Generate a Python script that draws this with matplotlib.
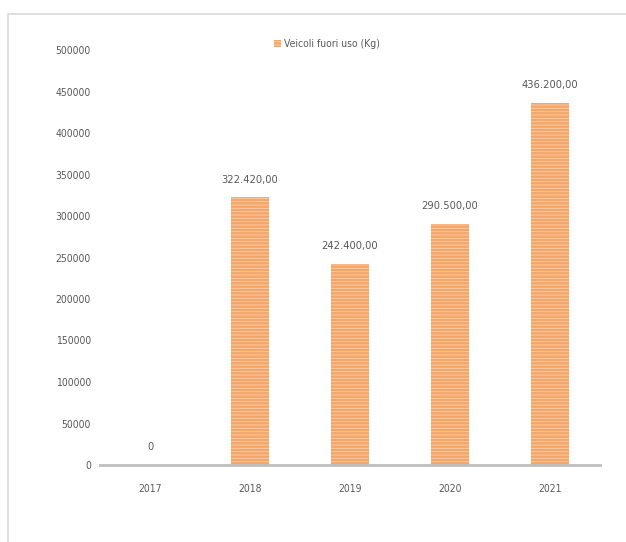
import matplotlib.pyplot as plt
import numpy as np
from matplotlib.patches import Rectangle

anni = ['2017', '2018', '2019', '2020', '2021']
veicoli_kg = [0, 322420, 242400, 290500, 436200]
etichette = ['0', '322.420,00', '242.400,00', '290.500,00', '436.200,00']
serie = 'Veicoli fuori uso (Kg)'

plt.rcParams['font.family'] = ['DejaVu Sans']
plt.rcParams['font.stretch'] = 'condensed'
plt.rcParams['hatch.linewidth'] = 0.6
grigio = '#595959'
arancio = '#F4A66A'

fig = plt.figure(figsize=(6.26, 5.42), dpi=100)
ax = fig.add_axes([100 / 626, 1 - 465 / 542, 500 / 626, 415 / 542])

# cornice esterna del grafico
fig.patches.append(Rectangle((8 / 626, -0.01), 1.0, 1 - 14 / 542 + 0.01,
                             transform=fig.transFigure, fill=False,
                             edgecolor='#D9D9D9', linewidth=1.2))

x = np.arange(len(anni))
barre = ax.bar(x, veicoli_kg, 0.38, color=arancio, edgecolor='#FAD0AC',
               linewidth=0, hatch='-----', label=serie)

for xi, v, testo in zip(x, veicoli_kg, etichette):
    ax.annotate(testo, (xi, v), xytext=(0, 9), textcoords='offset points',
                ha='center', va='bottom', fontsize=8, color=grigio)

ax.set_xlim(-0.5, 4.5)
ax.set_ylim(0, 500000)
ax.set_yticks(np.arange(0, 500001, 50000))
ax.set_xticks(x, anni)
ax.tick_params(length=0, labelsize=7.5, colors=grigio)
ax.tick_params(axis='y', pad=6.5)
ax.tick_params(axis='x', pad=14)
for lato in ['top', 'right', 'left']:
    ax.spines[lato].set_visible(False)
ax.spines['bottom'].set_color('#BFBFBF')
ax.spines['bottom'].set_linewidth(2)

ax.legend(loc='center', bbox_to_anchor=(327 / 626, 1 - 44 / 542),
          bbox_transform=fig.transFigure, frameon=False,
          fontsize=7.5, labelcolor=grigio, handlelength=0.7, handleheight=0.7,
          handletextpad=0.3)

fig.savefig('out.png', dpi=100)
